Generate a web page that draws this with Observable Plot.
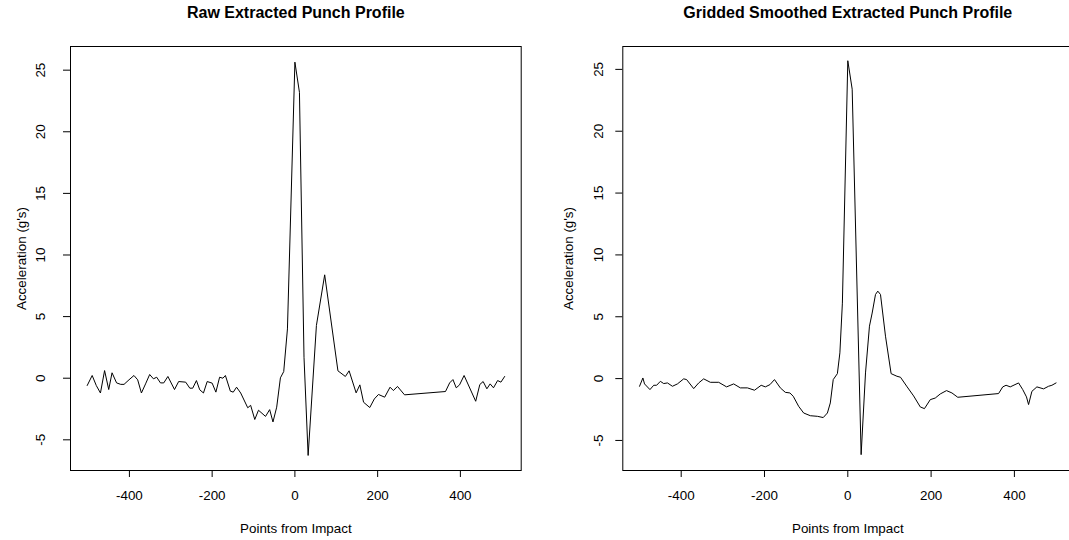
<!DOCTYPE html>
<html><head><meta charset="utf-8">
<script src="https://cdn.jsdelivr.net/npm/d3@7"></script>
<script src="https://cdn.jsdelivr.net/npm/@observablehq/plot@0.6"></script>
<style>
html,body{margin:0;padding:0;background:#fff;}
#wrap{position:relative;width:1069px;height:540px;overflow:hidden;background:#fff;}
#left{position:absolute;left:0;top:0;width:535px;height:540px;}
#right{position:absolute;left:535px;top:0;width:540px;height:540px;}
#wrap svg{max-width:none !important;display:block;}
</style></head><body><div id="wrap"><div id="left"></div><div id="right"></div></div>
<script>
const rawX = [-502,-490,-480,-470,-460,-450,-442,-431,-421,-413,-401,-389,-380,-371,-361,-351,-342,-334,-325,-317,-307,-291,-281,-264,-254,-247,-238,-230,-221,-212,-200,-191,-182,-174,-168,-156,-149,-141,-131,-114,-107,-97,-88,-71,-61,-53,-44,-35,-27,-18,0,11,22,32,52,72,104,122,131,148,157,166,181,192,202,217,230,238,248,265,364,374,382,390,398,409,437,447,455,464,472,480,490,498,507];
const rawY = [-0.59,0.22,-0.6,-1.2,0.62,-0.92,0.44,-0.38,-0.5,-0.5,-0.13,0.22,-0.13,-1.2,-0.46,0.3,-0.05,0.08,-0.38,-0.38,0.14,-0.92,-0.27,-0.32,-0.81,-0.81,-0.19,-0.94,-1.2,-0.27,-0.4,-1.13,0.08,0,0.22,-1.05,-1.13,-0.73,-1.2,-2.4,-2.2,-3.35,-2.6,-3.1,-2.55,-3.55,-2.35,0.03,0.54,4.0,25.65,23.2,1.7,-6.27,4.28,8.39,0.6,0.14,0.6,-1.19,-0.54,-1.95,-2.38,-1.68,-1.32,-1.54,-0.73,-1.0,-0.67,-1.35,-1.08,-0.38,-0.11,-0.78,-0.54,0.22,-1.87,-0.51,-0.27,-0.86,-0.46,-0.78,-0.19,-0.32,0.14];
const smoothX = [-500,-492,-488,-475,-466,-459,-450,-442,-433,-421,-409,-394,-387,-370,-358,-346,-330,-310,-291,-274,-258,-241,-224,-208,-198,-187,-176,-162,-150,-139,-131,-118,-106,-90,-73,-59,-49,-42,-35,-25,-19,-13,0,10.5,32,42.5,52,58.5,66.5,72,78.5,90.5,104,118,126.5,142.5,158,174,184,198,210,222,237,250,264,362,372,380,390,410,420,429,434,442,454,470,482,490,500];
const smoothY = [-0.62,0.05,-0.43,-0.89,-0.54,-0.54,-0.22,-0.4,-0.35,-0.62,-0.43,-0.02,-0.08,-0.81,-0.35,-0.02,-0.3,-0.3,-0.67,-0.43,-0.75,-0.75,-0.94,-0.54,-0.67,-0.49,-0.08,-0.75,-1.11,-1.16,-1.43,-2.24,-2.78,-3.0,-3.05,-3.15,-2.78,-1.97,-0.08,0.4,2.08,6.1,25.7,23.4,-6.15,0.46,4.24,5.3,6.8,7.07,6.8,3.43,0.4,0.19,0.11,-0.67,-1.4,-2.29,-2.43,-1.7,-1.57,-1.24,-0.97,-1.16,-1.51,-1.21,-0.67,-0.54,-0.67,-0.35,-0.89,-1.48,-2.1,-1.03,-0.67,-0.83,-0.62,-0.54,-0.35];
const xTicks = [-400,-200,0,200,400];
const yTicks = [-5,0,5,10,15,20,25];
const titleLeft = "Raw Extracted Punch Profile";
const titleRight = "Gridded Smoothed Extracted Punch Profile";
const xLabel = "Points from Impact";
const yLabel = "Acceleration (g's)";

function panel({xs, ys, title, width, marginLeft, frameW, xDomain, yDomain, yLabDx, yTitleDx}) {
  const data = xs.map((x, i) => ({x, y: ys[i]}));
  return Plot.plot({
    width, height: 540,
    marginTop: 46, marginBottom: 70, marginLeft, marginRight: width - marginLeft - frameW,
    style: {fontFamily: "'Liberation Sans', Arial, sans-serif", fontSize: "13.4px", background: "white", color: "black", overflow: "visible"},
    x: {domain: xDomain},
    y: {domain: yDomain},
    marks: [
      Plot.frame({stroke: "black", strokeWidth: 1}),
      Plot.axisX({ticks: xTicks, tickSize: 7, tickPadding: 13, tickFormat: d => String(d), fontSize: 13.4, label: null, stroke: "black"}),
      Plot.axisY({ticks: yTicks, tickSize: 7, tickFormat: () => "", label: null, stroke: "black"}),
      Plot.text(yTicks, {y: d => d, text: d => String(d), frameAnchor: "left", dx: yLabDx, rotate: -90, textAnchor: "middle", lineAnchor: "middle", fontSize: 13.4, fill: "black"}),
      Plot.text([yLabel], {text: d => d, frameAnchor: "left", dx: yTitleDx, rotate: -90, textAnchor: "middle", lineAnchor: "middle", fontSize: 13.4, fill: "black"}),
      Plot.text([xLabel], {text: d => d, frameAnchor: "bottom", dy: 58, textAnchor: "middle", lineAnchor: "middle", fontSize: 13.4, fill: "black"}),
      Plot.text([title], {text: d => d, frameAnchor: "top", dy: -33.3, textAnchor: "middle", lineAnchor: "middle", fontSize: 16, fontWeight: "bold", fill: "black"}),
      Plot.line(data, {x: "x", y: "y", stroke: "black", strokeWidth: 1})
    ]
  });
}

document.getElementById("left").append(panel({
  xs: rawX, ys: rawY, title: titleLeft, width: 535, marginLeft: 70, frameW: 450.7,
  xDomain: [-542.4, 547], yDomain: [-7.49, 26.92], yLabDx: -30, yTitleDx: -49
}));
document.getElementById("right").append(panel({
  xs: smoothX, ys: smoothY, title: titleRight, width: 540, marginLeft: 87.3, frameW: 450,
  xDomain: [-540.2, 540.2], yDomain: [-7.43, 26.85], yLabDx: -24, yTitleDx: -54
}));
</script></body></html>
